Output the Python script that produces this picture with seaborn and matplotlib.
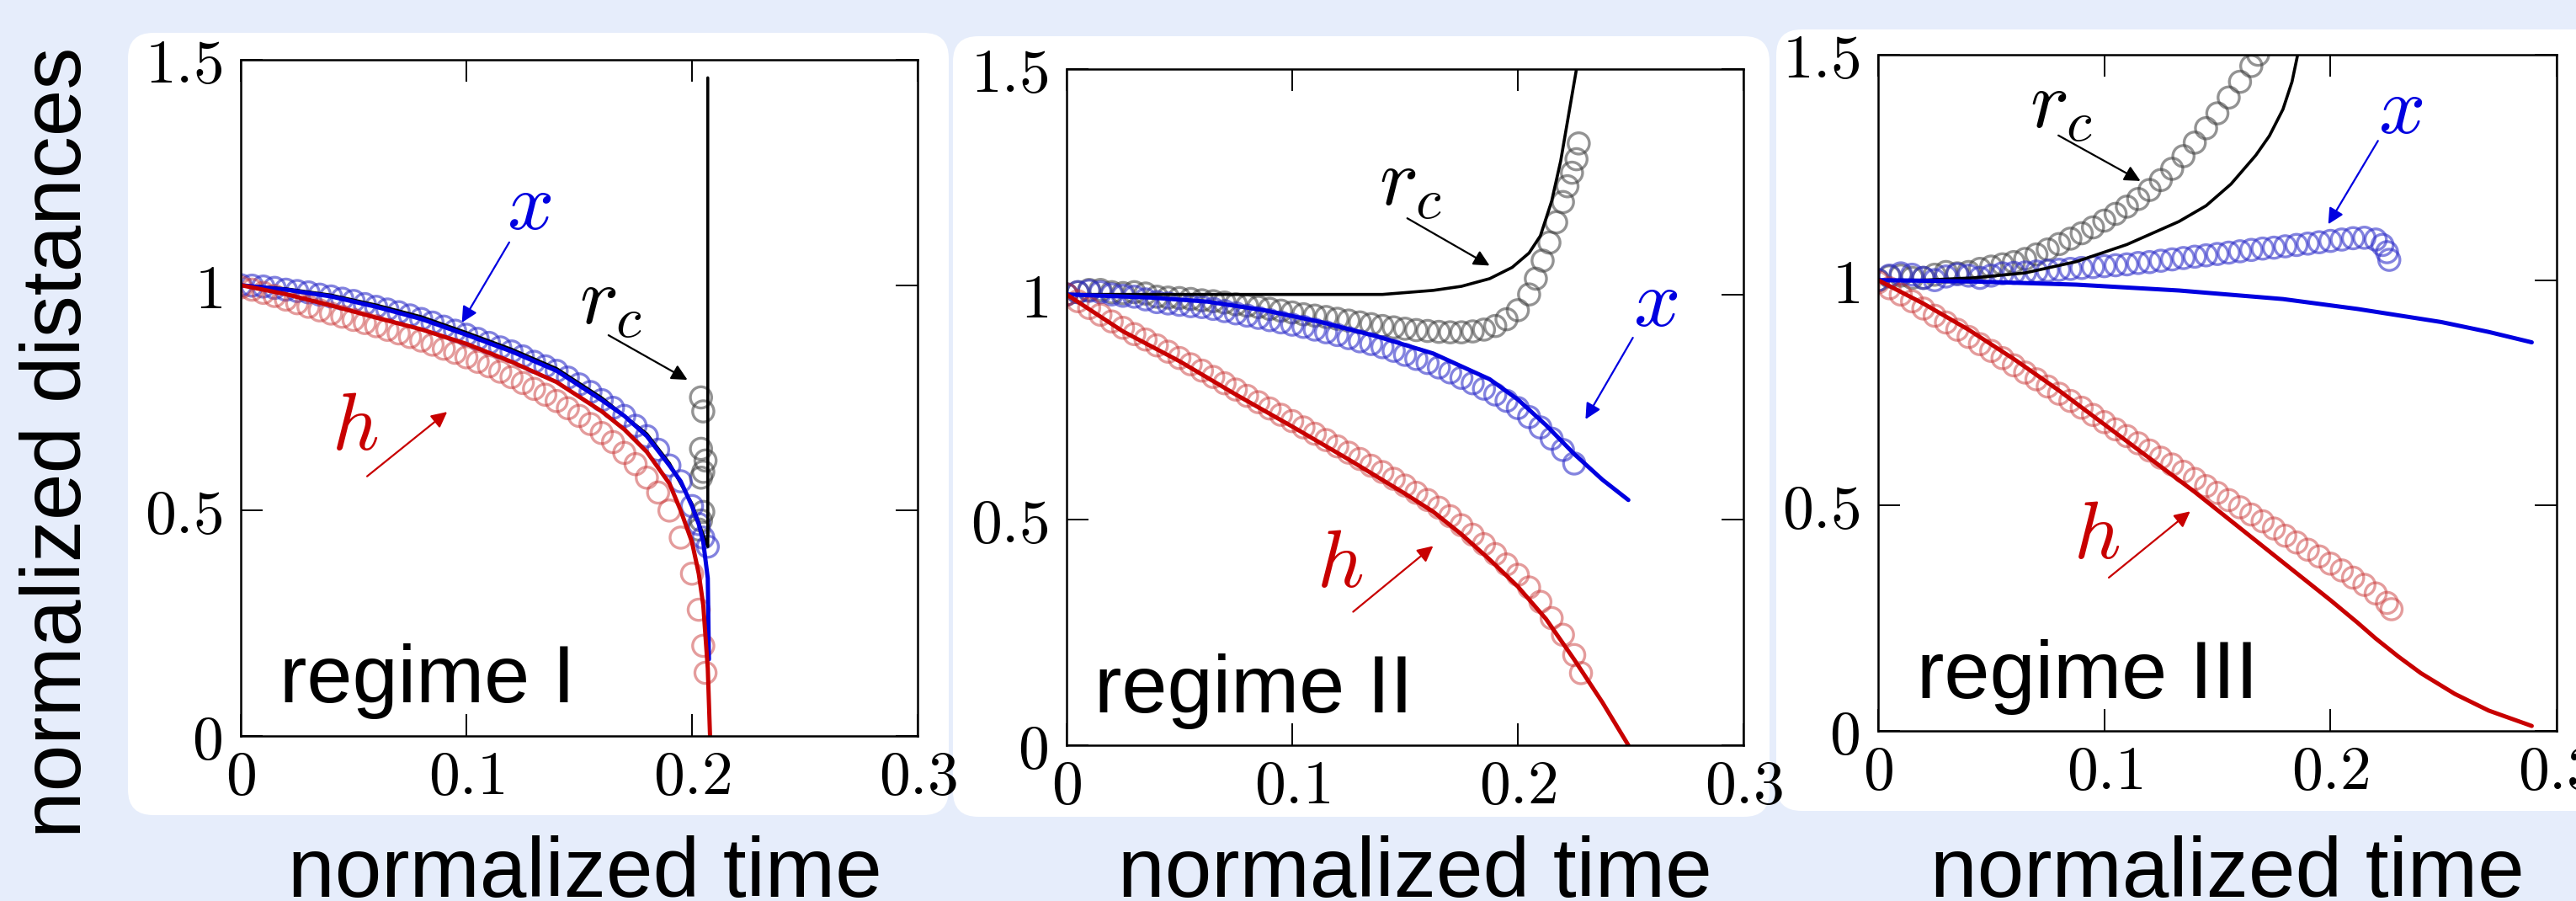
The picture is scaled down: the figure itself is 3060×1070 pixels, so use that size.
import seaborn as sns
import matplotlib.pyplot as plt
from matplotlib.patches import FancyBboxPatch
from matplotlib.transforms import IdentityTransform

# ---------------- data ----------------
x_ticks = [0, 0.1, 0.2, 0.3]
x_tick_labels = [r'$0$', r'$0.1$', r'$0.2$', r'$0.3$']
y_ticks = [0, 0.5, 1, 1.5]
y_tick_labels = [r'$0$', r'$0.5$', r'$1$', r'$1.5$']
regimes = ['regime I', 'regime II', 'regime III']

t_grid = [0.000, 0.005, 0.010, 0.015, 0.020, 0.025, 0.030, 0.035, 0.040, 0.045,
          0.050, 0.055, 0.060, 0.065, 0.070, 0.075, 0.080, 0.085, 0.090, 0.095,
          0.100, 0.105, 0.110, 0.115, 0.120, 0.125, 0.130, 0.135, 0.140, 0.145,
          0.150, 0.155, 0.160, 0.165, 0.170, 0.175, 0.180, 0.185, 0.190, 0.195,
          0.200, 0.205, 0.210, 0.215, 0.220, 0.225]

# regime I -- experiment (circles)
x1_exp_t = t_grid[:41] + [0.203, 0.205, 0.207]
x1_exp = [1.000, .999, .997, .994, .990, .987, .984, .979, .975, .970,
          .965, .958, .952, .946, .940, .933, .925, .917, .908, .899,
          .890, .881, .872, .862, .853, .842, .830, .820, .810, .795,
          .780, .763, .745, .728, .710, .688, .665, .635, .600, .565,
          .510, .470, .440, .420]
h1_exp_t = t_grid[:41] + [0.203, 0.205, 0.206]
h1_exp = [.995, .990, .983, .976, .968, .960, .952, .944, .937, .930,
          .923, .916, .909, .901, .893, .885, .877, .868, .859, .850,
          .840, .830, .820, .808, .796, .783, .770, .757, .743, .727,
          .710, .692, .672, .652, .628, .603, .573, .540, .500, .440,
          .360, .280, .200, .140]
rc1_exp_t = [.204, .205, .204, .206, .205, .204, .205, .204, .203]
rc1_exp = [.751, .720, .637, .611, .586, .573, .497, .478, .458]
# regime I -- model (lines)
x1_sim_t = [0, .02, .04, .06, .08, .10, .12, .14, .16, .17, .18, .19, .195, .20, .203, .205, .207, .2075]
x1_sim = [1.0, .99, .975, .952, .925, .89, .853, .81, .745, .71, .665, .60, .565, .51, .47, .43, .35, .17]
h1_sim_t = [0, .02, .04, .06, .08, .10, .12, .14, .16, .17, .18, .19, .195, .20, .203, .205, .207, .208]
h1_sim = [1.0, .98, .955, .928, .902, .87, .83, .785, .72, .68, .63, .56, .50, .43, .36, .29, .15, 0.0]
rc1_sim_t = [0, .02, .04, .06, .08, .10, .12, .14, .16, .18, .19, .20, .205, .207, .207]
rc1_sim = [1.0, .992, .978, .956, .93, .895, .858, .815, .75, .67, .605, .515, .445, .42, 1.46]

# regime II -- experiment
rc2_exp_t = t_grid[:42] + [0.208, 0.211, 0.214, 0.217, 0.220, 0.222, 0.224, 0.226, 0.227]
rc2_exp = [1.000, 1.005, 1.010, 1.010, 1.005, 1.003, 1.005, 1.002, .995, .993,
           .992, .990, .987, .985, .982, .978, .975, .972, .968, .964,
           .960, .956, .953, .950, .946, .942, .938, .934, .930, .927,
           .924, .921, .919, .917, .916, .916, .918, .922, .930, .945,
           .965, 1.000, 1.035, 1.075, 1.115, 1.160, 1.205, 1.240, 1.270, 1.300,
           1.335]
x2_exp_t = t_grid[:46]
x2_exp = [1.000, 1.005, 1.008, 1.005, 1.000, .997, .995, .989, .983, .980,
          .977, .974, .972, .968, .963, .958, .953, .948, .943, .938,
          .933, .928, .922, .916, .910, .903, .896, .890, .883, .875,
          .866, .857, .848, .838, .827, .815, .803, .791, .778, .764,
          .748, .728, .705, .680, .655, .625]
h2_exp_t = t_grid[:46] + [0.228]
h2_exp = [1.000, .985, .970, .955, .940, .926, .912, .900, .887, .873,
          .859, .845, .831, .817, .803, .789, .775, .761, .747, .733,
          .719, .705, .691, .677, .663, .649, .635, .620, .606, .591,
          .576, .560, .544, .527, .508, .488, .467, .446, .424, .401,
          .378, .350, .318, .282, .245, .200, .160]
# regime II -- model
rc2_sim_t = [0, .05, .10, .14, .1625, .175, .1875, .1975, .205, .21, .215, .219, .2225, .226]
rc2_sim = [1.0, 1.0, 1.0, 1.0, 1.009, 1.018, 1.035, 1.06, 1.092, 1.13, 1.207, 1.296, 1.398, 1.5]
x2_sim_t = [0, .0375, .0625, .0875, .1125, .1375, .1625, .1875, .2, .2125, .225, .2375, .249]
x2_sim = [1.0, .993, .984, .965, .939, .907, .869, .812, .767, .71, .646, .589, .544]
h2_sim_t = [0, .025, .05, .075, .1, .125, .15, .1625, .175, .1875, .2, .2125, .225, .2375, .249]
h2_sim = [1.0, .918, .852, .778, .707, .634, .558, .518, .468, .412, .352, .28, .19, .095, 0.0]

# regime III -- experiment
rc3_exp_t = t_grid[:34] + [0.168]
rc3_exp = [1.000, 1.008, 1.010, 1.005, 1.005, 1.012, 1.018, 1.015, 1.018, 1.025,
           1.030, 1.035, 1.040, 1.047, 1.057, 1.068, 1.080, 1.092, 1.104, 1.117,
           1.132, 1.147, 1.163, 1.180, 1.200, 1.222, 1.247, 1.275, 1.305, 1.337,
           1.370, 1.405, 1.440, 1.475, 1.500]
x3_exp_t = t_grid[:45] + [0.223, 0.225, 0.226]
x3_exp = [1.000, 1.010, 1.015, 1.012, 1.005, 1.000, 1.008, 1.013, 1.010, 1.005,
          1.010, 1.015, 1.016, 1.017, 1.019, 1.021, 1.023, 1.025, 1.027, 1.029,
          1.031, 1.033, 1.035, 1.038, 1.040, 1.043, 1.046, 1.049, 1.052, 1.055,
          1.058, 1.061, 1.064, 1.067, 1.070, 1.072, 1.075, 1.078, 1.081, 1.084,
          1.087, 1.090, 1.093, 1.094, 1.090, 1.078, 1.062, 1.045]
h3_exp_t = t_grid[:46] + [0.227]
h3_exp = [.995, .982, .968, .953, .937, .921, .906, .890, .874, .858,
          .843, .827, .811, .795, .780, .764, .748, .732, .717, .701,
          .685, .669, .654, .638, .622, .606, .591, .575, .559, .543,
          .528, .512, .496, .480, .465, .449, .433, .418, .402, .387,
          .371, .356, .340, .324, .305, .284, .270]
# regime III -- model
rc3_sim_t = [0, .02, .042, .065, .0876, .11, .133, .145, .156, .167, .173, .179, .183, .1855]
rc3_sim = [1.0, 1.0, 1.005, 1.016, 1.041, 1.079, 1.13, 1.165, 1.213, 1.277, 1.32, 1.379, 1.44, 1.5]
x3_sim_t = [0, .042, .0876, .133, .179, .212, .249, .27, .289]
x3_sim = [1.0, .997, .99, .977, .958, .936, .907, .885, .862]
h3_sim_t = [0, .02, .04, .06, .08, .10, .12, .14, .16, .18, .20, .212, .22, .23, .24, .255, .27, .289]
h3_sim = [1.0, .948, .89, .825, .755, .68, .605, .53, .45, .37, .29, .24, .205, .165, .128, .082, .045, .011]

panels = [
    dict(exp=[(rc1_exp_t, rc1_exp), (x1_exp_t, x1_exp), (h1_exp_t, h1_exp)],
         sim=[(rc1_sim_t, rc1_sim), (x1_sim_t, x1_sim), (h1_sim_t, h1_sim)]),
    dict(exp=[(rc2_exp_t, rc2_exp), (x2_exp_t, x2_exp), (h2_exp_t, h2_exp)],
         sim=[(rc2_sim_t, rc2_sim), (x2_sim_t, x2_sim), (h2_sim_t, h2_sim)]),
    dict(exp=[(rc3_exp_t, rc3_exp), (x3_exp_t, x3_exp), (h3_exp_t, h3_exp)],
         sim=[(rc3_sim_t, rc3_sim), (x3_sim_t, x3_sim), (h3_sim_t, h3_sim)]),
]

# ---------------- layout / style ----------------
bg = '#e6edfb'
line_colors = ['black', '#0000e0', '#c80000']
circ_colors = ['#3a3a3a', '#2a2ac8', '#c83030']
circ_alpha = [0.55, 0.58, 0.48]

# axes rectangles and white card boxes in pixels (x0, top, x1, bottom)
W, H = 3060, 1070
axes_px = [(286, 71, 1090, 874), (1267, 82, 2071, 885), (2231, 65, 3037, 868)]
card_px = [(152, 39, 1127, 968), (1132, 43, 2102, 970), (2110, 35, 3090, 963)]
xlabel_x = [695, 1681, 2646]

# labels: (text, color, label pos, arrow start, arrow end)
notes = [
    [(r'$x$', line_colors[1], (.128, 1.172), (.119, 1.095), (.098, .917)),
     (r'$r_c$', 'black', (.164, .961), (.163, .889), (.198, .79)),
     (r'$h$', line_colors[2], (.0505, .681), (.056, .576), (.0915, .719))],
    [(r'$r_c$', 'black', (.1525, 1.245), (.151, 1.169), (.1875, 1.064)),
     (r'$x$', line_colors[1], (.261, .977), (.251, .904), (.23, .723)),
     (r'$h$', line_colors[2], (.121, .398), (.127, .296), (.1625, .442))],
    [(r'$r_c$', 'black', (.081, 1.385), (.0797, 1.321), (.116, 1.22)),
     (r'$x$', line_colors[1], (.231, 1.373), (.221, 1.309), (.199, 1.124)),
     (r'$h$', line_colors[2], (.0967, .429), (.102, .34), (.138, .487))],
]
regime_pos = [(.017, .074), (.0125, .073), (.017, .073)]

sns.set_theme(style='ticks')
plt.rcParams['font.family'] = ['Liberation Sans', 'DejaVu Sans']
plt.rcParams['mathtext.fontset'] = 'cm'
plt.rcParams['text.color'] = 'black'

fig = plt.figure(figsize=(W / 100, H / 100), dpi=100)
fig.patch.set_facecolor(bg)

for (x0, y0, x1, y1) in card_px:
    fig.add_artist(FancyBboxPatch((x0, H - y1), x1 - x0, y1 - y0,
                                  boxstyle='round,pad=0,rounding_size=30',
                                  transform=IdentityTransform(),
                                  fc='white', ec='none', zorder=-5))

for i, p in enumerate(panels):
    x0, y0, x1, y1 = axes_px[i]
    ax = fig.add_axes([x0 / W, (H - y1) / H, (x1 - x0) / W, (y1 - y0) / H])
    ax.set_facecolor('white')

    # model r_c first, then the measured circles, then model x and h
    sns.lineplot(x=p['sim'][0][0], y=p['sim'][0][1], ax=ax, color=line_colors[0],
                 linewidth=2.6, estimator=None, sort=False)
    for k in range(3):
        t, v = p['exp'][k]
        sns.scatterplot(x=t, y=v, ax=ax, marker='o', s=330, color=circ_colors[k],
                        facecolors='none', edgecolor=circ_colors[k],
                        linewidth=2.4, alpha=circ_alpha[k])
    for k in (1, 2):
        t, v = p['sim'][k]
        sns.lineplot(x=t, y=v, ax=ax, color=line_colors[k], linewidth=3.6,
                     estimator=None, sort=False)

    for txt, c, lpos, a0, a1 in notes[i]:
        ax.text(*lpos, txt, color=c, fontsize=70, ha='center', va='center')
        ax.annotate('', xy=a1, xytext=a0,
                    arrowprops=dict(arrowstyle='-|>', color=c, lw=1.6,
                                    mutation_scale=28, shrinkA=0, shrinkB=0))

    ax.text(*regime_pos[i], regimes[i], fontsize=70, color='black',
            ha='left', va='baseline')

    ax.set_xlim(0, 0.3)
    ax.set_ylim(0, 1.5)
    ax.set_xticks(x_ticks)
    ax.set_xticklabels(x_tick_labels)
    ax.set_yticks(y_ticks)
    ax.set_yticklabels(y_tick_labels)
    ax.tick_params(axis='both', direction='in', length=19, width=1.4,
                   top=True, right=True, labelsize=53, colors='black')
    ax.tick_params(axis='x', pad=11)
    ax.tick_params(axis='y', pad=16)
    for s in ax.spines.values():
        s.set_linewidth(1.8)
        s.set_color('black')
    ax.set_xlabel('')
    ax.set_ylabel('')

    fig.text(xlabel_x[i] / W, 0.005, 'normalized time', fontsize=72,
             color='black', ha='center', va='baseline')

fig.text(70 / W, (H - 525) / H, 'normalized distances', fontsize=72,
         color='black', rotation=90, ha='center', va='center')

fig.savefig('out.png', dpi=100, facecolor=bg)
